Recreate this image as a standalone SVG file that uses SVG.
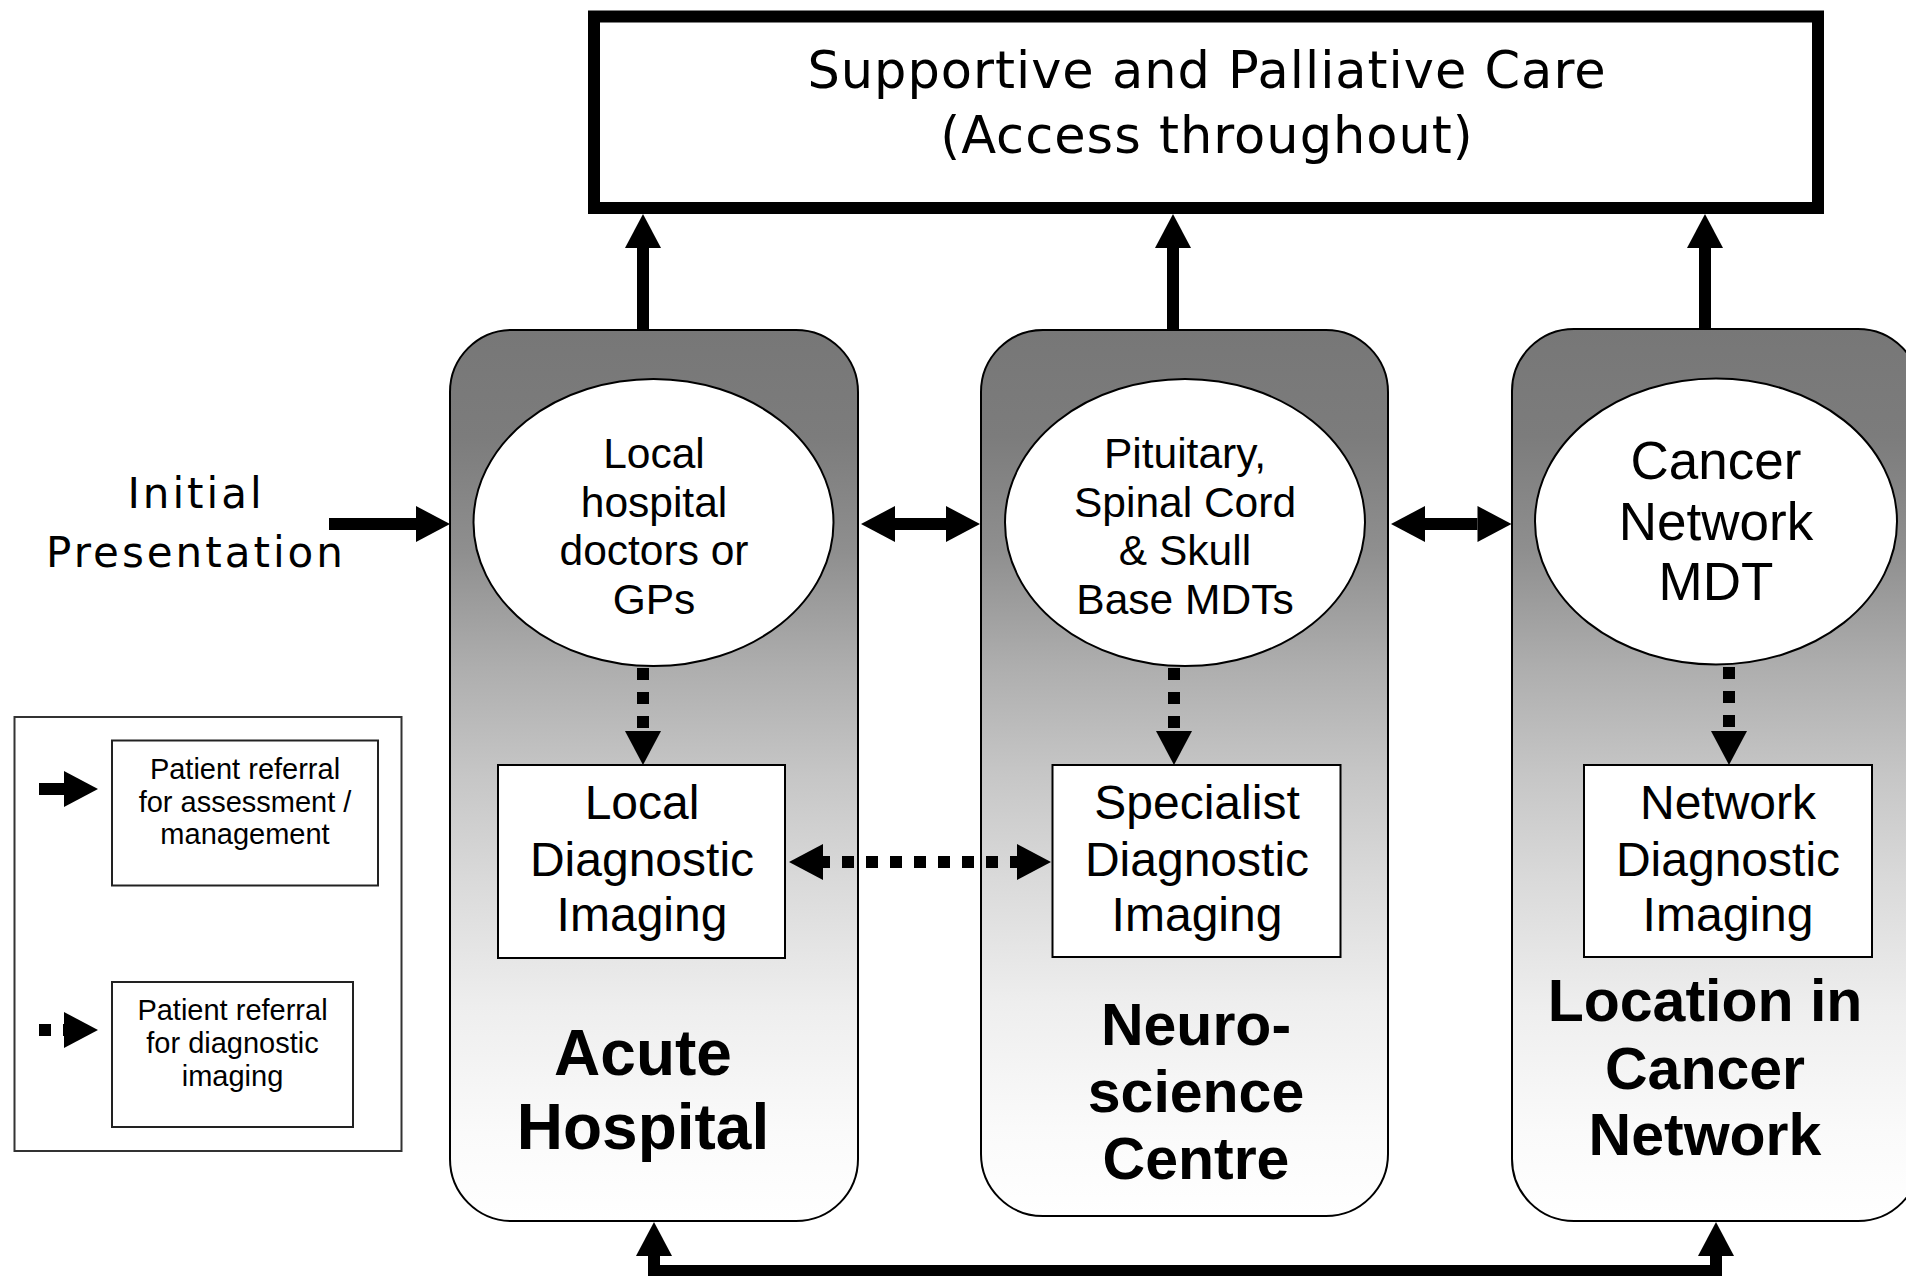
<svg xmlns="http://www.w3.org/2000/svg" width="1906" height="1276" viewBox="0 0 1906 1276">
<style>
.sans{font-family:"Liberation Sans",Arial,sans-serif;fill:#000;text-anchor:middle}
.wide{font-family:"DejaVu Sans",Verdana,sans-serif;fill:#000;text-anchor:middle}
.bold{font-weight:bold}
.cont{fill:url(#grad);stroke:#000;stroke-width:2}
.ell{fill:#fff;stroke:#000;stroke-width:2}
.box{fill:#fff;stroke:#000;stroke-width:2}
.solid{fill:none;stroke:#000;stroke-width:12}
.dot{fill:none;stroke:#000;stroke-width:12;stroke-dasharray:12 12}
</style>
<defs>
<linearGradient id="grad" x1="0" y1="0" x2="0" y2="1">
<stop offset="0" stop-color="#777777"/>
<stop offset="0.12" stop-color="#7c7c7c"/>
<stop offset="0.25" stop-color="#8f8f8f"/>
<stop offset="0.38" stop-color="#aeaeae"/>
<stop offset="0.5" stop-color="#c6c6c6"/>
<stop offset="0.62" stop-color="#dadada"/>
<stop offset="0.76" stop-color="#eeeeee"/>
<stop offset="0.9" stop-color="#fafafa"/>
<stop offset="1" stop-color="#ffffff"/>
</linearGradient>
<marker id="ah" markerUnits="userSpaceOnUse" markerWidth="36" markerHeight="36" refX="0" refY="18" orient="auto-start-reverse" overflow="visible">
<path d="M0,0 L34,18 L0,36 Z" fill="#000"/>
</marker>
</defs>

<g id="palliative">
<rect x="594" y="16.5" width="1224" height="191.5" fill="#fff" stroke="#000" stroke-width="12"/>
<text class="wide" x="1207" y="88" font-size="51" letter-spacing="1">Supportive and Palliative Care</text>
<text class="wide" x="1207" y="153" font-size="51" letter-spacing="1">(Access throughout)</text>
</g>

<g id="initial">
<text class="wide" x="196" y="508" font-size="42" letter-spacing="3">Initial</text>
<text class="wide" x="196" y="567" font-size="42" letter-spacing="3">Presentation</text>
</g>

<g id="acute">
<rect class="cont" x="450" y="330" width="408" height="891" rx="62" ry="62"/>
<text class="sans bold" x="643" y="1075" font-size="64">Acute</text>
<text class="sans bold" x="643" y="1149" font-size="64">Hospital</text>
</g>
<g id="neuro">
<rect class="cont" x="981" y="330" width="407" height="886" rx="62" ry="62"/>
<text class="sans bold" x="1196" y="1045" font-size="59">Neuro-</text>
<text class="sans bold" x="1196" y="1112" font-size="59">science</text>
<text class="sans bold" x="1196" y="1179" font-size="59">Centre</text>
</g>
<g id="network">
<rect class="cont" x="1512" y="329" width="408" height="892" rx="62" ry="62"/>
<text class="sans bold" x="1705" y="1021" font-size="59">Location in</text>
<text class="sans bold" x="1705" y="1089" font-size="59">Cancer</text>
<text class="sans bold" x="1705" y="1155" font-size="59">Network</text>
</g>

<g id="local-doctors">
<ellipse class="ell" cx="653.5" cy="522.5" rx="180" ry="143.5"/>
<text class="sans" x="654" y="468" font-size="42.5">Local</text>
<text class="sans" x="654" y="517" font-size="42.5">hospital</text>
<text class="sans" x="654" y="565" font-size="42.5">doctors or</text>
<text class="sans" x="654" y="614" font-size="42.5">GPs</text>
</g>
<g id="neuro-mdts">
<ellipse class="ell" cx="1185" cy="522.5" rx="180" ry="143.5"/>
<text class="sans" x="1185" y="468" font-size="42.5">Pituitary,</text>
<text class="sans" x="1185" y="517" font-size="42.5">Spinal Cord</text>
<text class="sans" x="1185" y="565" font-size="42.5">&amp; Skull</text>
<text class="sans" x="1185" y="614" font-size="42.5">Base MDTs</text>
</g>
<g id="network-mdt">
<ellipse class="ell" cx="1716" cy="521.5" rx="181" ry="143"/>
<text class="sans" x="1716" y="479" font-size="53">Cancer</text>
<text class="sans" x="1716" y="540" font-size="53">Network</text>
<text class="sans" x="1716" y="600" font-size="53">MDT</text>
</g>

<g id="local-imaging">
<rect class="box" x="498" y="765" width="287" height="193"/>
<text class="sans" x="642" y="819" font-size="48">Local</text>
<text class="sans" x="642" y="876" font-size="48">Diagnostic</text>
<text class="sans" x="642" y="931" font-size="48">Imaging</text>
</g>
<g id="specialist-imaging">
<rect class="box" x="1052.5" y="765" width="288" height="192"/>
<text class="sans" x="1197" y="819" font-size="48">Specialist</text>
<text class="sans" x="1197" y="876" font-size="48">Diagnostic</text>
<text class="sans" x="1197" y="931" font-size="48">Imaging</text>
</g>
<g id="network-imaging">
<rect class="box" x="1584" y="765" width="288" height="192"/>
<text class="sans" x="1728" y="819" font-size="48">Network</text>
<text class="sans" x="1728" y="876" font-size="48">Diagnostic</text>
<text class="sans" x="1728" y="931" font-size="48">Imaging</text>
</g>

<g id="legend">
<rect x="14.5" y="717" width="387" height="434" fill="#fff" stroke="#333" stroke-width="2"/>
<rect x="112" y="740.5" width="266" height="145" fill="#fff" stroke="#222" stroke-width="2"/>
<rect x="112" y="982" width="241" height="145" fill="#fff" stroke="#222" stroke-width="2"/>
<line class="solid" x1="39" y1="789" x2="64" y2="789" marker-end="url(#ah)"/>
<line class="dot" x1="39" y1="1030" x2="64" y2="1030" marker-end="url(#ah)"/>
<text class="sans" x="245" y="779" font-size="29">Patient referral</text>
<text class="sans" x="245" y="812" font-size="29">for assessment /</text>
<text class="sans" x="245" y="844" font-size="29">management</text>
<text class="sans" x="232.5" y="1020" font-size="29">Patient referral</text>
<text class="sans" x="232.5" y="1053" font-size="29">for diagnostic</text>
<text class="sans" x="232.5" y="1086" font-size="29">imaging</text>
</g>

<g id="connectors">
<line class="solid" x1="329" y1="524" x2="416" y2="524" stroke-width="11" marker-end="url(#ah)"/>
<line class="solid" x1="643" y1="330" x2="643" y2="248" marker-end="url(#ah)"/>
<line class="solid" x1="1173" y1="330" x2="1173" y2="248" marker-end="url(#ah)"/>
<line class="solid" x1="1705" y1="329" x2="1705" y2="248" marker-end="url(#ah)"/>
<line class="solid" x1="895" y1="524" x2="946" y2="524" marker-start="url(#ah)" marker-end="url(#ah)"/>
<line class="solid" x1="1425" y1="524" x2="1477.5" y2="524" marker-start="url(#ah)" marker-end="url(#ah)"/>
<line class="dot" x1="643" y1="668" x2="643" y2="731" marker-end="url(#ah)"/>
<line class="dot" x1="1174" y1="668" x2="1174" y2="731" marker-end="url(#ah)"/>
<line class="dot" x1="1729" y1="667" x2="1729" y2="731" marker-end="url(#ah)"/>
<line class="dot" x1="823" y1="862" x2="1017" y2="862" stroke-dashoffset="5" marker-start="url(#ah)" marker-end="url(#ah)"/>
<path class="solid" d="M654,1256 L654,1271 L1716,1271 L1716,1256" stroke-linejoin="miter" marker-start="url(#ah)" marker-end="url(#ah)"/>
</g>
</svg>
